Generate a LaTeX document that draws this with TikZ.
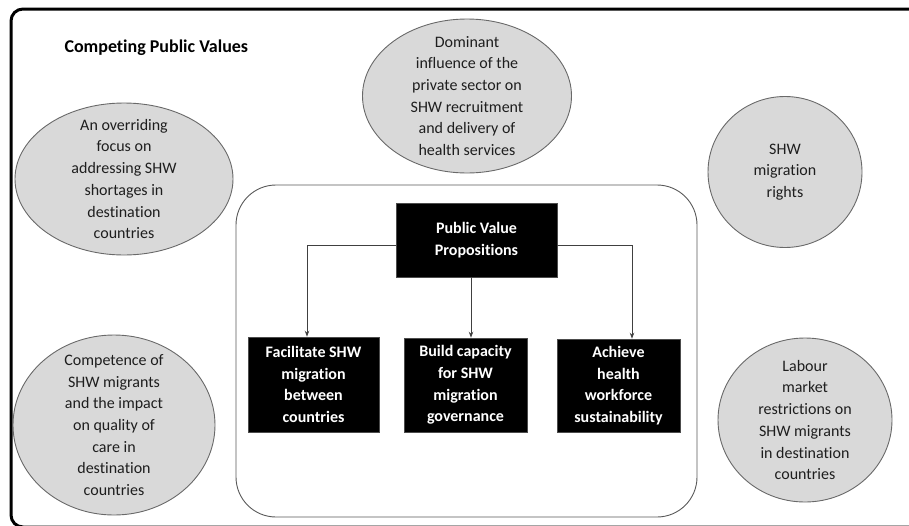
\documentclass[tikz,border=0pt]{standalone}
\usepackage{fontspec}
\setmainfont{Carlito}[Ligatures={NoCommon,NoContextual}]
\usetikzlibrary{shapes.geometric, arrows.meta, positioning}
\definecolor{ovalfill}{RGB}{217,217,217}
\definecolor{ovaldraw}{RGB}{105,105,105}
\definecolor{inktext}{RGB}{30,30,30}

\begin{document}
\begin{tikzpicture}[
  x = 1pt, y = -1pt,
  value/.style    = {ellipse, draw=ovaldraw, fill=ovalfill, line width=0.9pt,
                     inner sep=-30pt, align=center, text=inktext,
                     font=\fontsize{16}{21.7}\selectfont},
  propbox/.style  = {rectangle, fill=black, draw=black!70, line width=0.6pt,
                     inner sep=0pt, align=center, text=white,
                     font=\fontsize{16}{21.7}\selectfont\bfseries},
  framebox/.style = {rectangle, rounded corners=40pt, draw=black!65,
                     line width=0.9pt},
  arr/.style      = {-{Stealth[length=6pt, width=4.5pt]}, line width=0.9pt,
                     draw=black!75},
]
  \useasboundingbox (0,0) rectangle (909,525);

  % outer frame
  \draw[line width=3pt, rounded corners=12pt] (940,9) -- (11,9) -- (11,527) -- (940,527);

  % title
  \node[anchor=west, font=\fontsize{18}{20}\selectfont\bfseries] (title) at (61,48) {Competing Public Values};

  % competing values
  \node[value, minimum width=218pt, minimum height=152pt] (shortage) at (124,179)
    {An overriding\\focus on\\addressing SHW\\shortages in\\destination\\countries};
  \node[value, minimum width=209pt, minimum height=154pt] (privsector) at (467,96)
    {Dominant\\influence of the\\private sector on\\SHW recruitment\\and delivery of\\health services};
  \node[value, minimum width=154pt, minimum height=151pt] (rights) at (785,172)
    {SHW\\migration\\rights};
  \node[value, minimum width=202pt, minimum height=180pt] (competence) at (114,425)
    {Competence of\\SHW migrants\\and the impact\\on quality of\\care in\\destination\\countries};
  \node[value, minimum width=174pt, minimum height=164pt] (labour) at (805,420)
    {Labour\\market\\restrictions on\\SHW migrants\\in destination\\countries};

  % public value propositions
  \node[framebox, minimum width=461pt, minimum height=332pt] (pvpframe) at (466.5,351) {};
  \node[propbox, minimum width=161pt, minimum height=74pt] (pvp) at (476.5,240)
    {Public Value\\Propositions};
  \node[propbox, minimum width=131pt, minimum height=95pt] (facilitate) at (313.5,384.5)
    {Facilitate SHW\\migration\\between\\countries};
  \node[propbox, minimum width=123pt, minimum height=94pt] (capacity) at (465.5,385)
    {Build capacity\\for SHW\\migration\\governance};
  \node[propbox, minimum width=123pt, minimum height=93pt] (achieve) at (618.5,385.5)
    {Achieve\\health\\workforce\\sustainability};

  % Arrows
  \draw[arr] ([yshift=-5pt]pvp.west) -| ([xshift=-6.5pt]facilitate.north);
  \draw[arr] ([xshift=-5.5pt]pvp.south) -- ([xshift=-5.5pt]pvp.south |- capacity.north);
  \draw[arr] ([yshift=-5pt]pvp.east) -| ([xshift=13.5pt]achieve.north);
\end{tikzpicture}
\end{document}
